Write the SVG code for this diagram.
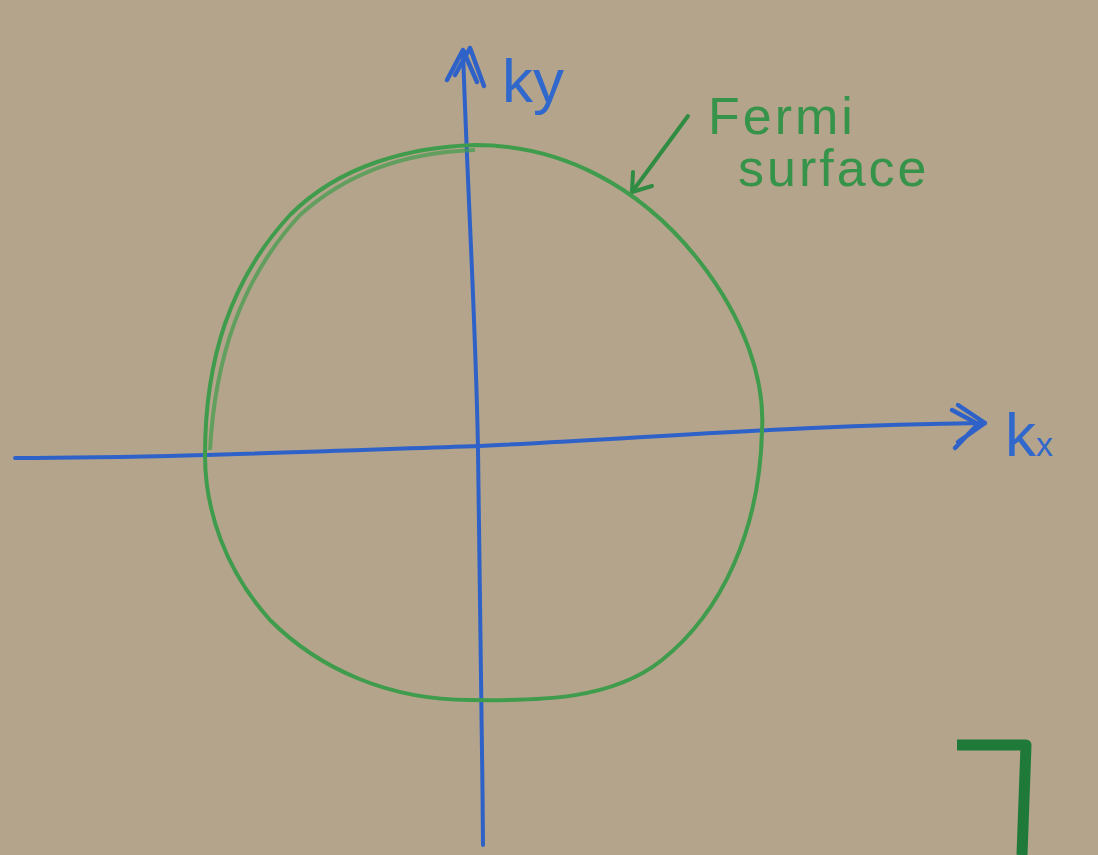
<svg xmlns="http://www.w3.org/2000/svg" width="1098" height="855" viewBox="0 0 1098 855">
<defs>
<style>
.axis{fill:none;stroke:#2f62c8;stroke-width:4;stroke-linecap:round;stroke-linejoin:round}
.head{fill:none;stroke:#2f62c8;stroke-width:4.5;stroke-linecap:round;stroke-linejoin:round}
.fs{fill:none;stroke:#3f9c4c;stroke-width:4;stroke-linejoin:round}
.lblb{font-family:"Liberation Sans",Arial,sans-serif;fill:#3068cc;font-size:62px}
.lblg{font-family:"Liberation Sans",Arial,sans-serif;fill:#36934a;font-size:52px;letter-spacing:3px}
</style>
</defs>
<rect width="1098" height="855" fill="#b4a48b"/>
<g id="connectors">
<path class="axis" d="M15,458 C150,458 300,452 480,446 C650,438 800,425 985,423"/>
<path class="head" d="M958,405 L985,423 L958,442 M952,410 L978,424 L955,448"/>
<path class="axis" d="M463,52 C468,200 476,330 478,450 C480,600 482,720 483,845"/>
<path class="head" d="M447,80 L463,50 L477,82 M455,75 L470,48 L484,86"/>
<path fill="none" stroke="#2f8c42" stroke-width="4" stroke-linecap="round" stroke-linejoin="round" d="M688,116 L632,192 M633,172 L632,192 L652,186"/>
</g>
<g id="fermi-surface">
<path class="fs" d="M475,145 C560,145 640,185 700,262 C745,320 765,380 762,430 C760,530 722,612 662,660 C612,700 540,701 470,700 C390,700 320,670 270,620 C225,570 205,510 205,455 C205,360 230,280 290,215 C340,165 410,147 475,145 Z"/>
<path class="fs" d="M475,150 C410,152 350,170 300,215 C240,280 215,360 210,450" stroke-width="2.5" opacity="0.7"/>
</g>
<g id="label-ky"><text class="lblb" x="502" y="102">ky</text></g>
<g id="label-kx"><text class="lblb" x="1005" y="456">k<tspan font-size="34">x</tspan></text></g>
<g id="label-fermi">
<text class="lblg" x="708" y="134">Fermi</text>
<text class="lblg" x="738" y="186">surface</text>
</g>
<g id="mark">
<path d="M957,745 L1026,745 L1022,855" fill="none" stroke="#1f7a3a" stroke-width="11" stroke-linejoin="round"/>
</g>
</svg>
